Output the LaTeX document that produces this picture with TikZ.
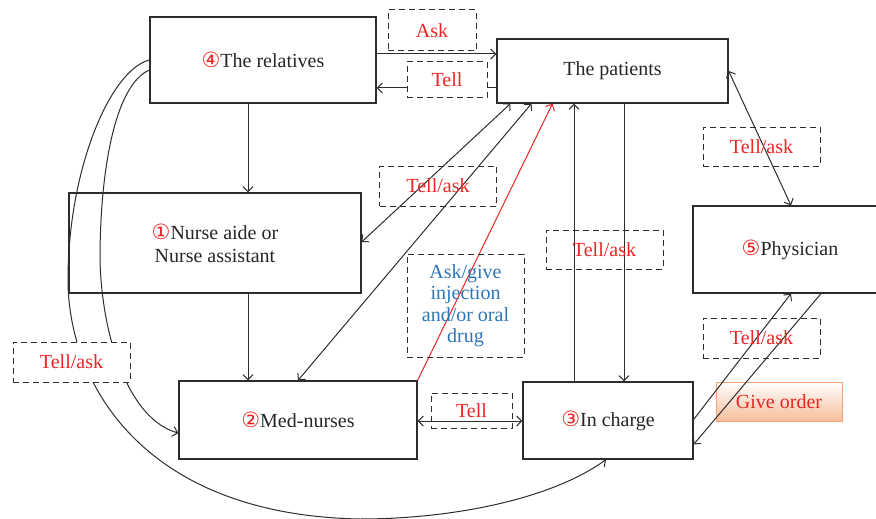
\documentclass[tikz,border=0pt]{standalone}
\usepackage{fontspec}
\setmainfont{Liberation Serif}
\newfontfamily\circfont{DejaVu Sans}
\usetikzlibrary{arrows.meta}
\definecolor{txtred}{RGB}{237,36,36}
\definecolor{txtblue}{RGB}{46,117,182}
\definecolor{linegray}{RGB}{45,45,45}
\definecolor{ordfill}{RGB}{246,190,155}
\definecolor{ordline}{RGB}{242,165,115}
\newcommand{\cnum}[1]{{\circfont\fontsize{21}{21}\selectfont\color{txtred}#1}}
\tikzset{
  mainbox/.style={draw=linegray,line width=1.2pt,inner sep=0pt,align=center,
    text=black!85,font=\fontsize{20}{23}\selectfont},
  tagbox/.style={draw=linegray,line width=1pt,dash pattern=on 6pt off 4pt,
    inner sep=0pt,align=center,text=txtred,font=\fontsize{20}{21.5}\selectfont},
  orderbox/.style={draw=ordline,line width=0.8pt,top color=white,bottom color=ordfill,
    inner sep=0pt,text=txtred,font=\fontsize{20}{22}\selectfont}
}

\begin{document}
\begin{tikzpicture}[x=1pt,y=-1pt,>={Straight Barb[length=5pt,width=10pt]},line width=1pt,draw=linegray]
\useasboundingbox (0,0) rectangle (876,519);

% the six parties
\node[mainbox,minimum width=226pt,minimum height=86pt] (rel) at (263,60) {\cnum{④}The relatives};
\node[mainbox,minimum width=231pt,minimum height=64pt] (pat) at (612.5,71) {The patients};
\node[mainbox,minimum width=292pt,minimum height=100pt] (aide) at (215,243) {\cnum{①}Nurse aide or\\Nurse assistant};
\node[mainbox,minimum width=194pt,minimum height=87pt] (phys) at (790,249.5) {\cnum{⑤}Physician};
\node[mainbox,minimum width=238pt,minimum height=78pt] (med) at (298,420) {\cnum{②}Med-nurses};
\node[mainbox,minimum width=170pt,minimum height=77pt] (inch) at (608,420.5) {\cnum{③}In charge};

\node[orderbox,minimum width=126pt,minimum height=39pt] (order) at (779,401.5) {Give order};

% straight links
\draw[->] ([yshift=6pt]rel.east) -- ([yshift=6pt]rel.east -| pat.west);
\draw[->] ([yshift=-17pt]pat.west) -- ([yshift=-17pt]pat.west -| rel.east);
\draw[->] ([xshift=-15pt]rel.south) -- ([xshift=-15pt]rel.south |- aide.north);
\draw[->] ([xshift=33pt]aide.south) -- ([xshift=33pt]aide.south |- med.north);
\draw[<->] ([xshift=-102pt]pat.south) -- ([yshift=1pt]aide.east);
\draw[<->] ([xshift=-81pt]pat.south) -- (med.north);
\draw[->,txtred] (med.north east) -- ([xshift=-60pt]pat.south);
\draw[->] ([xshift=-34pt]inch.north) -- ([xshift=-34pt]inch.north |- pat.south);
\draw[->] ([xshift=16pt]inch.north |- pat.south) -- ([xshift=16pt]inch.north);
\draw[<->] (pat.east) -- ([xshift=1pt]phys.north);
\draw[->] ([yshift=1pt]inch.east) -- ([xshift=1pt]phys.south);
\draw[->] ([xshift=31pt]phys.south) -- ([yshift=-24pt]inch.east);
\draw[<->] ([yshift=-1pt]med.east) -- ([yshift=-1pt]med.east -| inch.west);

% curved links from the relatives
\draw[->] (rel.west) .. controls (110,70) and (68,170) .. (68,280)
  .. controls (68,380) and (140,515) .. (360,519)
  .. controls (450,519) and (550,500) .. ([xshift=-2pt]inch.south);
\draw[->] ([yshift=-10pt]rel.west) .. controls (115,85) and (100,170) .. (100,260)
  .. controls (102,340) and (130,420) .. ([yshift=-13pt]med.west);

% labels
\node[tagbox,minimum width=88pt,minimum height=41pt] (ask) at (432,30.5) {Ask};
\node[tagbox,fill=white,minimum width=80pt,minimum height=36pt] (tellA) at (447,80) {Tell};
\node[tagbox,minimum width=117pt,minimum height=40pt] (taA) at (438,186) {Tell/ask};
\node[tagbox,text=txtblue,minimum width=117pt,minimum height=103pt] (inj) at (465.5,305.5) {Ask/give\\injection\\and/or oral\\drug};
\node[tagbox,minimum width=117pt,minimum height=39pt] (taB) at (604.5,249.5) {Tell/ask};
\node[tagbox,minimum width=117pt,minimum height=39pt] (taC) at (761.5,146.5) {Tell/ask};
\node[tagbox,minimum width=117pt,minimum height=40pt] (taD) at (761.5,338) {Tell/ask};
\node[tagbox,fill=white,minimum width=117pt,minimum height=40pt] (taE) at (71.5,362) {Tell/ask};
\node[tagbox,minimum width=81pt,minimum height=35pt] (tellB) at (471.5,410.5) {Tell};
\end{tikzpicture}
\end{document}
